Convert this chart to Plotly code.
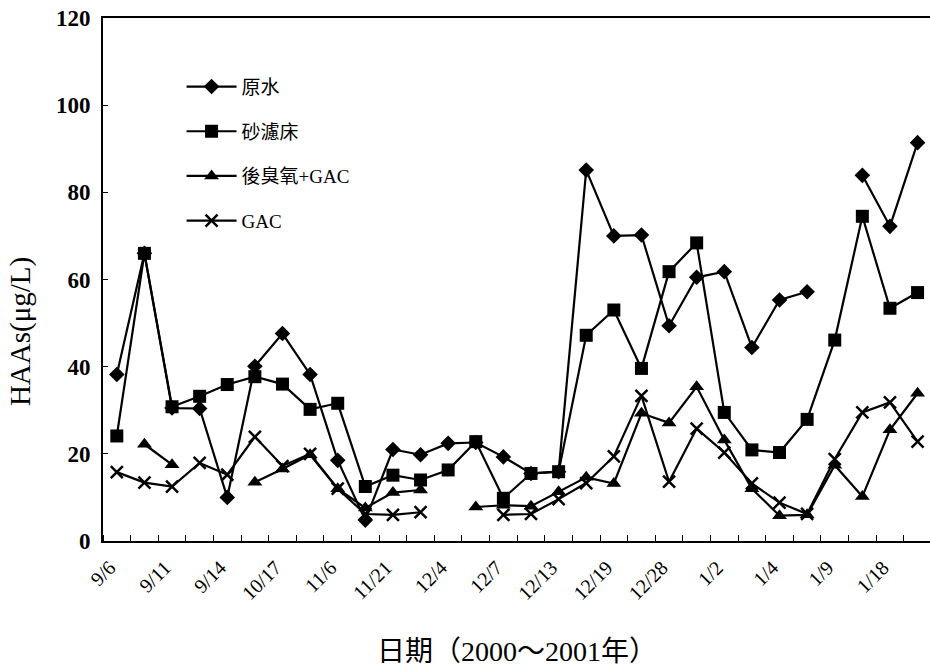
import plotly.graph_objects as go

# Sampling dates (every other sampling day is labelled on the axis)
tick_labels = ["9/6", "9/11", "9/14", "10/17", "11/6", "11/21", "12/4", "12/7",
               "12/13", "12/19", "12/28", "1/2", "1/4", "1/9", "1/18"]
n_samples = 30
sample_idx = list(range(n_samples))

# HAAs concentrations (µg/L); None = not sampled
raw_water = [38.2, 66.0, 30.5, 30.4, 10.0, 40.1, 47.6, 38.2, 18.5, 4.8,
             21.0, 19.8, 22.4, 22.6, 19.3, 15.5, 15.9, 85.1, 70.0, 70.2,
             49.4, 60.5, 61.8, 44.4, 55.3, 57.2, None, 83.9, 72.2, 91.4]
sand_filter = [24.1, 66.0, 30.8, 33.2, 35.9, 37.7, 36.0, 30.2, 31.6, 12.5,
               15.1, 14.0, 16.3, 22.8, 9.8, 15.5, 15.9, 47.2, 53.0, 39.6,
               61.8, 68.4, 29.5, 20.9, 20.3, 27.9, 46.1, 74.5, 53.4, 57.0]
post_ozone_gac = [None, 22.2, 17.5, None, None, 13.5, 16.5, 19.8, 12.0, 7.6,
                  11.1, 11.7, None, 7.8, 8.2, 8.0, 11.3, 14.6, 13.2, 29.3,
                  27.1, 35.4, 23.2, 12.0, 5.8, 6.0, 17.4, 10.2, 25.5, 33.9]
gac = [15.8, 13.4, 12.5, 17.9, 15.2, 23.9, 17.2, 20.0, 12.0, 6.2,
       6.0, 6.6, None, None, 6.0, 6.2, 9.6, 13.3, 19.4, 33.3,
       13.6, 25.8, 20.3, 13.2, 8.8, 6.2, 18.8, 29.5, 31.8, 22.8]

series = [
    ("原水", raw_water, "diamond", 12),
    ("砂濾床", sand_filter, "square", 13),
    ("後臭氧+GAC", post_ozone_gac, "triangle-up", 13),
    ("GAC", gac, "x-thin", 12),
]

fig = go.Figure()
for i, (name, vals, sym, size) in enumerate(series):
    marker = dict(symbol=sym, size=size, color="black",
                  line=dict(color="black", width=2.5 if sym == "x-thin" else 0))
    fig.add_trace(go.Scatter(
        x=sample_idx, y=vals, name=name, mode="lines+markers",
        line=dict(color="black", width=2.2),
        marker=marker, connectgaps=False,
        legendgroup=f"g{i}",
    ))

cjk = "Noto Sans CJK TC"
serif = "Liberation Serif"

fig.update_layout(
    width=930, height=672,
    margin=dict(l=103, r=0, t=18, b=131),
    paper_bgcolor="white", plot_bgcolor="white",
    showlegend=True,
    legend=dict(
        x=0.095, y=0.905, xanchor="left", yanchor="top",
        bgcolor="rgba(0,0,0,0)", borderwidth=0,
        font=dict(family=serif + ", " + cjk, size=19, color="black"),
        itemwidth=50, traceorder="grouped", tracegroupgap=17,
    ),
    xaxis=dict(
        range=[-0.5, 29.45],
        tickmode="array",
        tickvals=sample_idx[::2],
        ticktext=tick_labels,
        tickangle=-45,
        ticks="", showgrid=False, zeroline=False,
        showline=True, linecolor="black", linewidth=2, mirror=True,
        tickfont=dict(family=serif, size=20, color="black"),
        ticklabelshift=-7, ticklabelstandoff=5,
        minor=dict(tick0=-0.5, dtick=1, ticks="inside", ticklen=6,
                   tickcolor="black", tickwidth=1, showgrid=False),
    ),
    yaxis=dict(
        range=[0, 120], dtick=20,
        ticks="inside", ticklen=5, tickcolor="black", tickwidth=1,
        showgrid=False, zeroline=False,
        showline=True, linecolor="black", linewidth=2,
        tickfont=dict(family=serif, size=23, color="black", weight="bold"),
        ticklabelstandoff=6,
    ),
    annotations=[
        dict(text="HAAs(μg/L)", xref="paper", yref="paper",
             x=-0.1, y=0.40, xanchor="center", yanchor="middle",
             textangle=-90, showarrow=False,
             font=dict(family=serif, size=29, color="black")),
        dict(text="日期（2000～2001年）", xref="paper", yref="paper",
             x=0.50, y=-0.212, xanchor="center", yanchor="middle",
             showarrow=False,
             font=dict(family=serif + ", " + cjk, size=28, color="black")),
    ],
)

fig.write_html("out.html")
